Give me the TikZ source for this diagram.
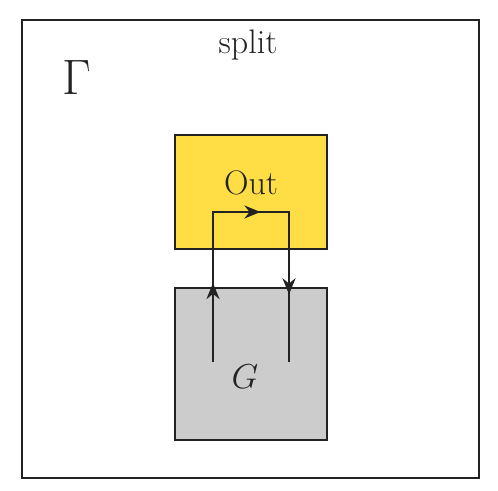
\documentclass[tikz,border=0pt]{standalone}
\usepackage{tikz}
\usetikzlibrary{arrows.meta, decorations.markings}
\definecolor{outyellow}{HTML}{FFDD44}
\definecolor{ggray}{HTML}{CCCCCC}
\definecolor{ink}{HTML}{222222}

\begin{document}
\begin{tikzpicture}[
  x=0.5pt, y=-0.5pt,
  box/.style={draw=ink, line width=1.1pt, inner sep=0pt},
  outbox/.style={box, fill=outyellow, minimum width=76pt, minimum height=57pt},
  gbox/.style={box, fill=ggray, minimum width=76pt, minimum height=76pt},
  txt/.style={text=ink, inner sep=0pt},
  wire/.style={draw=ink, line width=1.4pt, postaction={decorate},
    decoration={markings,
      mark=at position 0.21 with {\arrow{Stealth[length=8pt, width=6.5pt]}},
      mark=at position 0.525 with {\arrow{Stealth[length=8pt, width=6.5pt]}},
      mark=at position 0.82 with {\arrow{Stealth[length=8pt, width=6.5pt]}}}}
]
\useasboundingbox (0,0) rectangle (498,491);
\node[box, minimum width=228.5pt, minimum height=229pt] (frame) at (250.5,249) {};
\node[txt, font=\fontsize{17}{20}\selectfont] (split) at (248,45) {split};
\node[txt, font=\fontsize{30}{33}\selectfont] (gamma) at (77,78) {$\Gamma$};

\node[outbox] (out) at (251,192) {};
\node[gbox] (g) at (251,364) {};
\node[txt, font=\fontsize{17}{20}\selectfont] (outlbl) at (251,183) {Out};
\node[txt, font=\fontsize{17}{20}\selectfont] (glbl) at (245,377) {$G$};

% loop through Out
\coordinate (gin) at (213,362);
\coordinate (tl) at (213,212);
\coordinate (tr) at (289,212);
\coordinate (gout) at (289,362);
\draw[wire] (gin) -- (tl) -- (tr) -- (gout);
\end{tikzpicture}
\end{document}
